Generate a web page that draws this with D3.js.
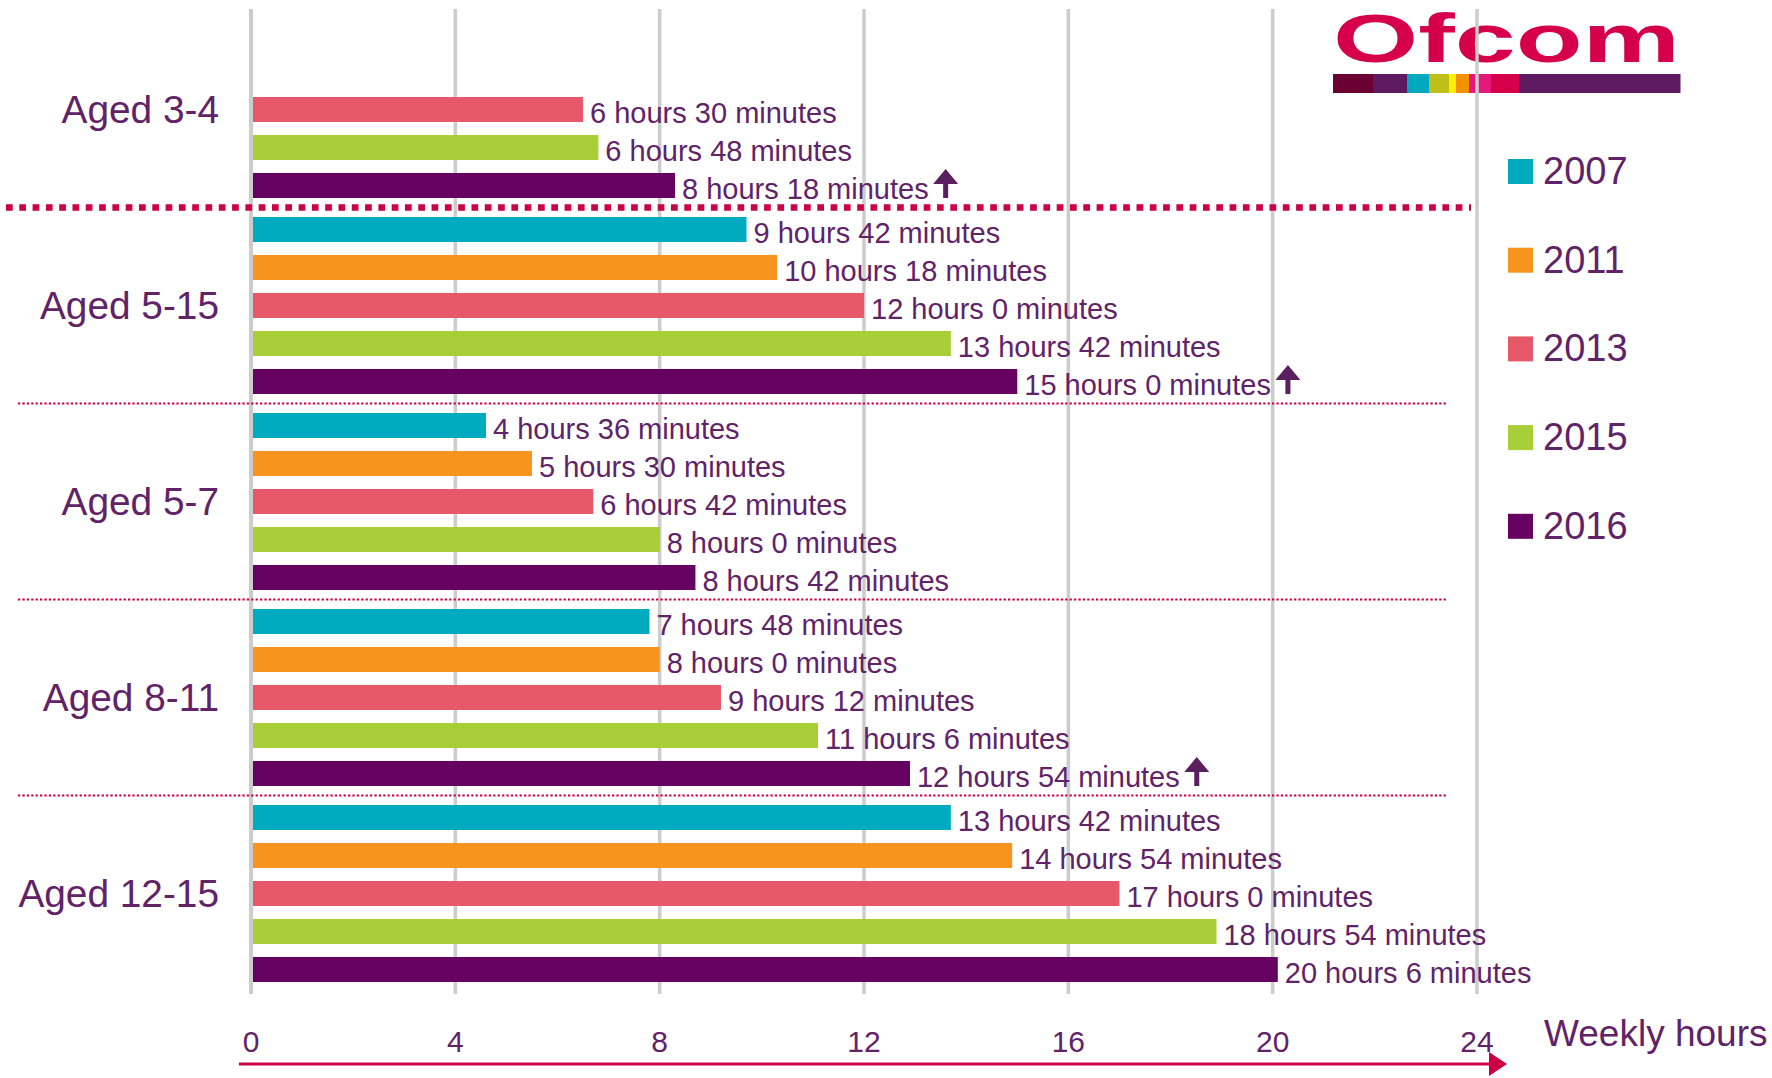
<!DOCTYPE html>
<html><head><meta charset="utf-8">
<script src="https://cdn.jsdelivr.net/npm/d3@7"></script>
<style>html,body{margin:0;padding:0;background:#fff;} svg{display:block;} text{font-family:"Liberation Sans",Arial,sans-serif;}</style>
</head><body><svg id="c" width="1772" height="1078"></svg>
<script>
// ---- data ----
const groups = ["Aged 3-4","Aged 5-15","Aged 5-7","Aged 8-11","Aged 12-15"];
const years = ["2007","2011","2013","2015","2016"];
const hours2007 = [null, 9.7, 4.6, 7.8, 13.7];
const hours2011 = [null, 10.3, 5.5, 8.0, 14.9];
const hours2013 = [6.5, 12.0, 6.7, 9.2, 17.0];
const hours2015 = [6.8, 13.7, 8.0, 11.1, 18.9];
const hours2016 = [8.3, 15.0, 8.7, 12.9, 20.1];
const increase2016 = [true, true, false, true, false];
const xTicks = [0,4,8,12,16,20,24];
const yearColors = ["#00ABBF","#F7941D","#E75969","#A8CF38","#660061"];
const logoColors = ["#6B0033","#5E1A60","#00A9C0","#BFBF1A","#FFEE00","#F39200","#E5177B","#D6004A","#5E1A60"];
const logoWeights = [40,34,22,20,7,13,22,28,161];

const series = [hours2007, hours2011, hours2013, hours2015, hours2016];
const TEXT = "#602368", CRIMSON = "#CC0044";

const svg = d3.select("#c");
svg.append("rect").attr("width",1772).attr("height",1078).attr("fill","#fff");

const x = d3.scaleLinear().domain([0,24]).range([251,1477]);
const y0 = d3.scaleBand().domain(groups).range([21, 21+196*groups.length]);
const y1 = d3.scaleBand().domain(years).range([0,177]).paddingInner(13/38);

// ---- logo ----
const logo = svg.append("g");
logo.append("text").attr("x",1333).attr("y",62).text("Ofcom")
  .attr("font-family","'DejaVu Serif',serif").attr("font-weight","bold")
  .attr("font-size",68).attr("fill","#D6004A")
  .attr("textLength",347).attr("lengthAdjust","spacingAndGlyphs");
const lx = d3.scaleLinear().domain([0, d3.sum(logoWeights)]).range([1333,1680]);
let acc = 0;
logoColors.forEach((c,i)=>{
  logo.append("rect").attr("x",lx(acc)).attr("y",74).attr("width",lx(acc+logoWeights[i])-lx(acc)+0.5)
    .attr("height",19).attr("fill",c);
  acc += logoWeights[i];
});

// ---- gridlines ----
svg.append("g").selectAll("line").data(xTicks.filter(t=>t>0)).join("line")
  .attr("x1",d=>x(d)).attr("x2",d=>x(d)).attr("y1",9).attr("y2",994)
  .attr("stroke","#CCCCCC").attr("stroke-width",3.5);

// ---- bars ----
const rows = [];
groups.forEach((g,gi)=>{
  years.forEach((yr,yi)=>{
    const v = series[yi][gi];
    if (v !== null) rows.push({g, gi, yr, yi, v});
  });
});
const barG = svg.append("g");
barG.selectAll("rect").data(rows).join("rect")
  .attr("x",x(0)).attr("y",d=>y0(d.g)+y1(d.yr))
  .attr("width",d=>x(d.v)-x(0)).attr("height",y1.bandwidth())
  .attr("fill",d=>yearColors[d.yi]);

// zero line on top
svg.append("line").attr("x1",x(0)).attr("x2",x(0)).attr("y1",9).attr("y2",994)
  .attr("stroke","#CCCCCC").attr("stroke-width",4);

// ---- value labels ----
function fmt(v){ const h = Math.floor(v+1e-9); const m = Math.round((v-h)*60); return h+" hours "+m+" minutes"; }
const labels = barG.selectAll("text").data(rows).join("text")
  .attr("x",d=>x(d.v)+7).attr("y",d=>y0(d.g)+y1(d.yr)+y1.bandwidth()+1)
  .attr("font-size",29).attr("fill",TEXT).text(d=>fmt(d.v));

// ---- increase arrows ----
labels.each(function(d){
  if (d.yr==="2016" && increase2016[d.gi]) {
    const w = this.getComputedTextLength();
    const cx = x(d.v)+7+w+17;
    const yb = y0(d.g)+y1(d.yr)+y1.bandwidth();
    const pts = [[cx-12.5,yb-14],[cx,yb-29],[cx+12.5,yb-14],[cx+2.5,yb-14],[cx+2.5,yb],[cx-2.5,yb],[cx-2.5,yb-14]];
    svg.append("polygon").attr("points",pts.map(p=>p.join(",")).join(" ")).attr("fill","#5A1F5E");
  }
});

// ---- separators ----
groups.forEach((g,i)=>{
  if (i===0) return;
  const yy = y0(g) - 9.5;
  if (i===1) {
    svg.append("line").attr("x1",6).attr("x2",1471).attr("y1",yy).attr("y2",yy)
      .attr("stroke",CRIMSON).attr("stroke-width",6.5).attr("stroke-dasharray","6.7 6.6");
  } else {
    svg.append("line").attr("x1",18).attr("x2",1446).attr("y1",yy).attr("y2",yy)
      .attr("stroke",CRIMSON).attr("stroke-width",2).attr("stroke-dasharray","2.3 2.1");
  }
});

// ---- group labels ----
svg.append("g").selectAll("text").data(groups).join("text")
  .attr("x",219).attr("y",d=>y0(d)+177/2+13.5).attr("text-anchor","end")
  .attr("font-size",38.8).attr("fill",TEXT).text(d=>d);

// ---- x axis ----
const ax = svg.append("g");
ax.selectAll("text").data(xTicks).join("text")
  .attr("x",d=>x(d)).attr("y",1052).attr("text-anchor","middle")
  .attr("font-size",30).attr("fill",TEXT).text(d=>d);
ax.append("line").attr("x1",239).attr("x2",1492).attr("y1",1064).attr("y2",1064)
  .attr("stroke",CRIMSON).attr("stroke-width",3);
ax.append("polygon").attr("points","1489,1052 1507,1064 1489,1076").attr("fill",CRIMSON);
ax.append("text").attr("x",1544).attr("y",1046).attr("font-size",37).attr("fill",TEXT).text("Weekly hours");

// ---- legend ----
const leg = svg.append("g").selectAll("g").data(years).join("g")
  .attr("transform",(d,i)=>`translate(1508,${159+i*88.7})`);
leg.append("rect").attr("width",25).attr("height",25).attr("fill",(d,i)=>yearColors[i]);
leg.append("text").attr("x",35).attr("y",25).attr("font-size",38).attr("fill",TEXT).text(d=>d);
</script></body></html>
